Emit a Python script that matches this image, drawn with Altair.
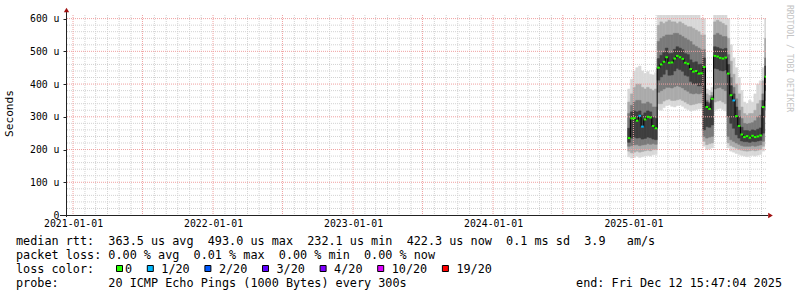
import altair as alt
import pandas as pd

NBSP = "\u00a0"

# ------------------------------------------------------------------ data
WEEK_STARTS = pd.date_range("2024-12-17", periods=52, freq="7D")
RANGE_END = "2025-12-12T15:47:04"

MEDIAN = [235, 295, 296, 288, 303, 270, 292, 300, 298, 272, 265,
          450, 460, 468, 482, 465, 466, 478, 486, 482, 477, 465, 462, 446, 438, 440, 432, 433, 452,
          330, 324, 355,
          486, 484, 480, 478, 481,
          432, 366, 350, 302, 272,
          246, 238, 241, 236, 242, 238, 240, 243,
          330, 422]

LOSS = ["0"] * 52
LOSS[4] = "1/20"
LOSS[5] = "1/20"
LOSS[39] = "1/20"

OUTER_HI = [385, 415, 440, 450, 455, 440, 432, 438, 430, 428, 435,
            650, 650, 650, 650, 650, 650, 650, 650, 650, 650, 650, 650, 650, 650, 650, 650, 600, 600,
            385, 380, 390,
            650, 650, 650, 650, 650,
            600, 520, 480, 450, 420,
            380, 345, 340, 350, 345, 370, 400, 410,
            450, 600]
OUTER_LO = [178, 174, 176, 180, 176, 178, 180, 182, 180, 184, 185,
            322, 320, 328, 334, 336, 332, 330, 334, 336, 332, 326, 322, 318, 320, 322, 324, 325, 210,
            200, 202, 205,
            320, 324, 326, 322, 318,
            205, 195, 192, 188, 185,
            182, 180, 178, 180, 182, 180, 183, 185,
            195, 300]
MID_HI = [345, 370, 390, 400, 400, 390, 385, 390, 385, 380, 385,
          580, 590, 585, 590, 595, 590, 590, 585, 590, 585, 580, 575, 575, 570, 565, 560, 550, 550,
          370, 365, 375,
          590, 595, 590, 585, 580,
          540, 470, 430, 400, 370,
          330, 310, 305, 310, 310, 320, 340, 350,
          410, 540]
MID_LO = [195, 190, 192, 195, 192, 194, 196, 198, 196, 200, 200,
          340, 340, 348, 352, 354, 350, 350, 352, 354, 350, 345, 340, 336, 338, 340, 342, 342, 225,
          215, 218, 220,
          345, 348, 350, 345, 340,
          220, 212, 208, 204, 200,
          198, 196, 195, 196, 198, 196, 198, 200,
          210, 320]
INNER_HI = [310, 335, 345, 350, 350, 340, 340, 345, 340, 330, 330,
            530, 540, 545, 550, 550, 550, 555, 555, 550, 545, 540, 535, 530, 520, 515, 510, 505, 505,
            350, 345, 365,
            550, 555, 550, 545, 545,
            490, 420, 390, 355, 320,
            295, 280, 278, 280, 282, 288, 300, 305,
            370, 480]
INNER_LO = [210, 212, 214, 215, 212, 214, 215, 218, 216, 218, 216,
            375, 380, 385, 390, 390, 388, 392, 395, 392, 388, 382, 378, 372, 370, 372, 370, 372, 240,
            235, 238, 240,
            385, 388, 390, 385, 380,
            240, 230, 225, 220, 216,
            212, 210, 210, 210, 212, 210, 212, 214,
            225, 350]
CORE_HI = [265, 315, 318, 315, 318, 305, 312, 318, 315, 300, 295,
           478, 488, 496, 510, 493, 494, 506, 514, 510, 505, 493, 490, 474, 466, 468, 460, 461, 480,
           345, 340, 360,
           514, 512, 508, 506, 509,
           460, 395, 370, 330, 300,
           268, 258, 258, 256, 260, 258, 262, 266,
           350, 455]
CORE_LO = [222, 235, 238, 235, 236, 232, 234, 238, 236, 232, 230,
           412, 422, 430, 444, 427, 428, 440, 448, 444, 439, 427, 424, 408, 400, 402, 394, 395, 260,
           270, 268, 275,
           448, 446, 442, 440, 443,
           300, 280, 265, 245, 235,
           226, 224, 224, 222, 225, 224, 226, 228,
           250, 380]

Y_TICKS = [0, 100, 200, 300, 400, 500, 600]
X_TICK_YEARS = [2021, 2022, 2023, 2024, 2025]

LOSS_LABELS = ["0", "1/20", "2/20", "3/20", "4/20", "10/20", "19/20"]
LOSS_COLORS = ["#26ff00", "#00b8ff", "#0059ff", "#5e00ff", "#7e00ff", "#dd00ff", "#ff0000"]

STATS_LINE = "median rtt:  363.5 us avg  493.0 us max  232.1 us min  422.3 us now  0.1 ms sd  3.9   am/s"
LOSS_LINE = "packet loss: 0.00 % avg  0.01 % max  0.00 % min  0.00 % now"
LEGEND_TITLE = "loss color:"
PROBE_LINE = "probe:       20 ICMP Echo Pings (1000 Bytes) every 300s"
END_LINE = "end: Fri Dec 12 15:47:04 2025"
Y_TITLE = "Seconds"
WATERMARK = "RRDTOOL / TOBI OETIKER"

# ------------------------------------------------------------------ style
MONO = "DejaVu Sans Mono"
SMOKE_COLORS = ["#d8d8d8", "#ababab", "#7a7a7a", "#3e3e3e"]
MINOR_GRID = "#d2d2d2"
MAJOR_GRID = "#f0a0a0"
AXIS_COL = "#222222"
ARROW_COL = "#a01010"
FOOT_SIZE = 11.8
CHAR_W = 7.1

starts = [d.strftime("%Y-%m-%dT%H:%M:%S") for d in WEEK_STARTS]
ends = starts[1:] + [RANGE_END]

x_scale = alt.Scale(domain=[alt.DateTime(year=2020, month=12, date=13, hours=15, minutes=47, seconds=4),
                            alt.DateTime(year=2025, month=12, date=12, hours=15, minutes=47, seconds=4)],
                    nice=False)
y_scale = alt.Scale(domain=[0, 611], nice=False, zero=True)

X_AXIS = alt.Axis(values=[alt.DateTime(year=y, month=1, date=1) for y in X_TICK_YEARS],
                  format="%Y-%m-%d", formatType="time", title=None, domain=False, grid=False,
                  ticks=False, labelFont=MONO, labelFontSize=9.8, labelColor="#000000",
                  labelPadding=8, labelBaseline="middle", labelFlush=False, labelOverlap=False)
Y_AXIS = alt.Axis(values=Y_TICKS, labelExpr="datum.value == 0 ? '0' : datum.value + ' u'",
                  title=None, domain=False, grid=False, ticks=True, tickSize=3, tickColor=AXIS_COL,
                  labelFont=MONO, labelFontSize=9.8, labelColor="#000000", labelPadding=4)


def X(field):
    return alt.X(field, type="temporal", scale=x_scale, axis=X_AXIS)


def Y(field):
    return alt.Y(field, type="quantitative", scale=y_scale, axis=Y_AXIS)


layers = []

# minor grid (below the smoke)
minor_y = [v for v in range(20, 611, 20) if v % 100]
major_y = [v for v in Y_TICKS if v > 0]
months = pd.date_range("2021-01-01", "2025-12-01", freq="MS")
minor_x = [m.strftime("%Y-%m-%dT00:00:00") for m in months if m.month not in (1, 7)]
major_x = [m.strftime("%Y-%m-%dT00:00:00") for m in months if m.month in (1, 7)]

layers.append(alt.Chart(pd.DataFrame({"v": minor_y})).mark_rule(color=MINOR_GRID, strokeDash=[1, 1], strokeWidth=1)
              .encode(y=Y("v")))
layers.append(alt.Chart(pd.DataFrame({"t": minor_x})).mark_rule(color=MINOR_GRID, strokeDash=[1, 1], strokeWidth=1)
              .encode(x=X("t")))

# smoke bands
bands = [(OUTER_LO, OUTER_HI), (MID_LO, MID_HI), (INNER_LO, INNER_HI), (CORE_LO, CORE_HI)]
for (lo, hi), col in zip(bands, SMOKE_COLORS):
    df = pd.DataFrame({"start": starts, "end": ends, "lo": lo, "hi": hi})
    layers.append(alt.Chart(df).mark_rect(clip=True, color=col, stroke=col, strokeWidth=0.5)
                  .encode(x=X("start"), x2="end", y=Y("lo"), y2="hi"))

# major grid (above the smoke)
layers.append(alt.Chart(pd.DataFrame({"v": major_y})).mark_rule(color=MAJOR_GRID, strokeDash=[1, 1], strokeWidth=1)
              .encode(y=Y("v")))
layers.append(alt.Chart(pd.DataFrame({"t": major_x})).mark_rule(color=MAJOR_GRID, strokeDash=[1, 1], strokeWidth=1)
              .encode(x=X("t")))

# median
med_line = pd.DataFrame({"t": starts + [RANGE_END], "v": MEDIAN + [MEDIAN[-1]]})
layers.append(alt.Chart(med_line).mark_line(interpolate="step-after", color="#000000", strokeWidth=1)
              .encode(x=X("t"), y=Y("v")))
med_df = pd.DataFrame({"start": starts, "end": ends, "median": MEDIAN, "loss": LOSS})
layers.append(alt.Chart(med_df).mark_rule(strokeWidth=2)
              .encode(x=X("start"), x2="end", y=Y("median"),
                      color=alt.Color("loss:N", scale=alt.Scale(domain=LOSS_LABELS, range=LOSS_COLORS),
                                      legend=None)))

# axis lines and arrows
one = pd.DataFrame({"a": [0]})
layers.append(alt.Chart(one).mark_rule(color=AXIS_COL, strokeWidth=1)
              .encode(x=alt.value(0.5), y=alt.value(-3), y2=alt.value(202)))
layers.append(alt.Chart(one).mark_rule(color=AXIS_COL, strokeWidth=1)
              .encode(x=alt.value(-6), x2=alt.value(702), y=alt.value(200.5)))
layers.append(alt.Chart(one).mark_point(shape="triangle-up", filled=True, color=ARROW_COL, size=28, opacity=1)
              .encode(x=alt.value(0.5), y=alt.value(-5)))
layers.append(alt.Chart(one).mark_point(shape="triangle-right", filled=True, color=ARROW_COL, size=28, opacity=1)
              .encode(x=alt.value(704.5), y=alt.value(200.5)))

# y title and watermark
layers.append(alt.Chart(pd.DataFrame({"t": [Y_TITLE]})).mark_text(font=MONO, fontSize=11.2, angle=270,
                                                                  align="center", baseline="middle", color="#000000")
              .encode(text="t:N", x=alt.value(-56), y=alt.value(98.5)))
layers.append(alt.Chart(pd.DataFrame({"t": [WATERMARK]})).mark_text(font=MONO, fontSize=8.1, angle=90,
                                                                    align="left", baseline="middle", color="#c4c4c4")
              .encode(text="t:N", x=alt.value(722.5), y=alt.value(-10)))


# footer text
def nb(s):
    return s.replace(" ", NBSP)


foot = pd.DataFrame({"txt": [nb(STATS_LINE), nb(LOSS_LINE), nb(LEGEND_TITLE), nb(PROBE_LINE)],
                     "row": [0, 1, 2, 3]})
foot["yy"] = 226 + 14 * foot["row"]
layers.append(alt.Chart(foot).mark_text(font=MONO, fontSize=FOOT_SIZE, align="left", baseline="middle",
                                        color="#000000")
              .encode(text="txt:N", x=alt.value(-50), y=alt.Y("yy:Q", scale=None, axis=None)))
layers.append(alt.Chart(pd.DataFrame({"t": [nb(END_LINE)]})).mark_text(font=MONO, fontSize=FOOT_SIZE, align="right",
                                                                       baseline="middle", color="#000000")
              .encode(text="t:N", x=alt.value(716), y=alt.value(268)))

# loss colour legend (rrdtool-like box + label layout)
cursor = 116 - 66
rows = []
for lab, col in zip(LOSS_LABELS, LOSS_COLORS):
    tx = cursor + (9 if lab == "0" else 14.5)
    rows.append({"sx": cursor + 0.5, "sx2": cursor + 6.5, "tx": tx, "lab": lab, "col": col})
    cursor = tx + len(lab) * CHAR_W + 14.7
leg = pd.DataFrame(rows)
layers.append(alt.Chart(leg).mark_rect(stroke="#000000", strokeWidth=1)
              .encode(x=alt.X("sx:Q", scale=None, axis=None), x2="sx2:Q",
                      y=alt.value(250.5), y2=alt.value(256.5),
                      fill=alt.Fill("col:N", scale=None)))
layers.append(alt.Chart(leg).mark_text(font=MONO, fontSize=FOOT_SIZE, align="left", baseline="middle",
                                       color="#000000")
              .encode(text="lab:N", x=alt.X("tx:Q", scale=None, axis=None), y=alt.value(254)))

chart = (alt.layer(*layers)
         .properties(width=700, height=200,
                     padding={"left": 66, "top": 15, "right": 31, "bottom": 82},
                     autosize=alt.AutoSizeParams(type="none"),
                     background="#ffffff")
         .configure_view(stroke=None))

chart.save("out.html", embed_options={"renderer": "svg", "actions": False})
